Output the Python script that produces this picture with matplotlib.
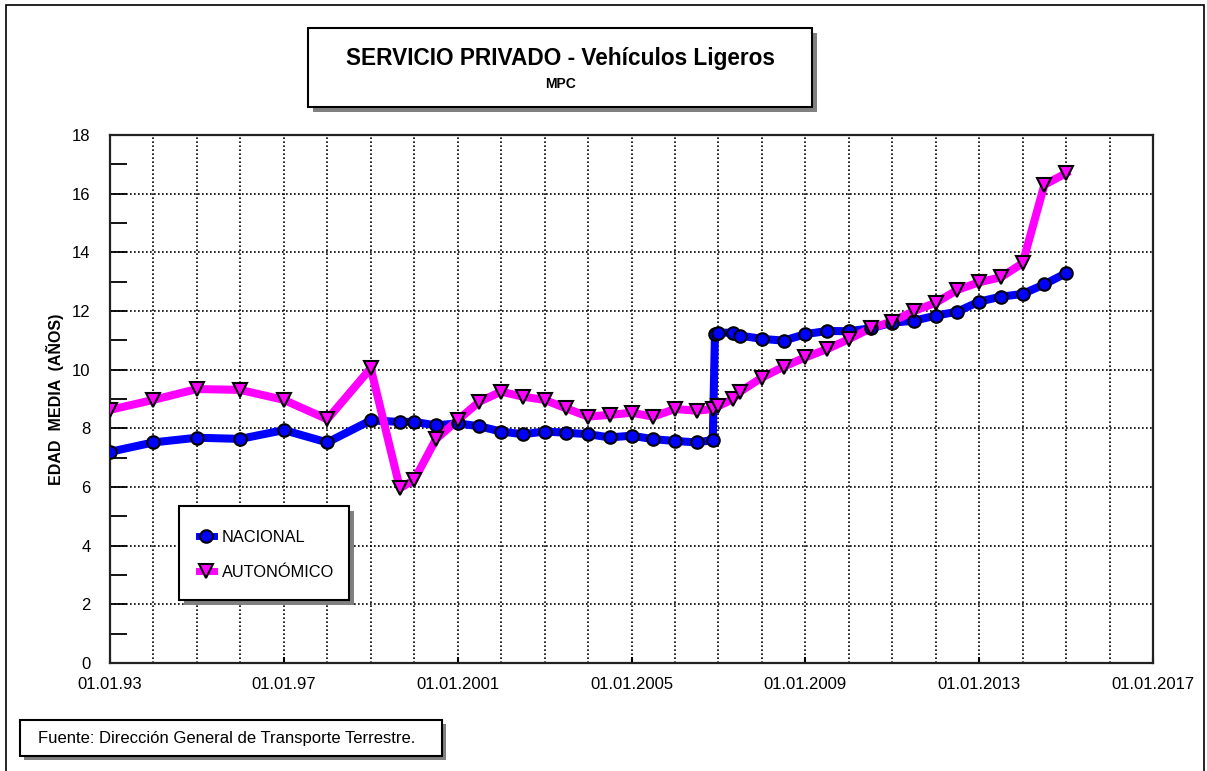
import numpy as np
import matplotlib
matplotlib.use('Agg')
import matplotlib.pyplot as plt
from matplotlib.patches import Rectangle
from matplotlib.lines import Line2D

plt.rcParams['font.family'] = ['Liberation Sans', 'DejaVu Sans']

# fechas en años decimales
nac_x = [1993.0, 1994.0, 1995.0, 1996.0, 1997.0, 1998.0, 1999.0, 1999.67, 2000.0, 2000.5,
         2001.0, 2001.5, 2002.0, 2002.5, 2003.0, 2003.5, 2004.0, 2004.5, 2005.0, 2005.5,
         2006.0, 2006.5, 2006.87, 2006.92, 2007.0, 2007.33, 2007.5, 2008.0, 2008.5, 2009.0,
         2009.5, 2010.0, 2010.5, 2011.0, 2011.5, 2012.0, 2012.5, 2013.0, 2013.5, 2014.0,
         2014.5, 2015.0]
nac_y = [7.20, 7.52, 7.68, 7.64, 7.94, 7.52, 8.27, 8.22, 8.22, 8.10,
         8.17, 8.07, 7.89, 7.80, 7.89, 7.85, 7.80, 7.69, 7.75, 7.63,
         7.57, 7.52, 7.60, 11.21, 11.26, 11.26, 11.16, 11.05, 10.99, 11.21,
         11.32, 11.31, 11.41, 11.60, 11.67, 11.84, 11.98, 12.32, 12.49, 12.58,
         12.91, 13.29]

aut_x = [1993.0, 1994.0, 1995.0, 1996.0, 1997.0, 1998.0, 1999.0, 1999.67, 2000.0, 2000.5,
         2001.0, 2001.5, 2002.0, 2002.5, 2003.0, 2003.5, 2004.0, 2004.5, 2005.0, 2005.5,
         2006.0, 2006.5, 2006.87, 2007.0, 2007.33, 2007.5, 2008.0, 2008.5, 2009.0,
         2009.5, 2010.0, 2010.5, 2011.0, 2011.5, 2012.0, 2012.5, 2013.0, 2013.5, 2014.0,
         2014.5, 2015.0]
aut_y = [8.63, 8.97, 9.34, 9.31, 8.97, 8.31, 10.05, 5.96, 6.24, 7.63,
         8.28, 8.91, 9.25, 9.08, 8.97, 8.68, 8.40, 8.46, 8.53, 8.40,
         8.66, 8.60, 8.66, 8.76, 8.99, 9.25, 9.73, 10.10, 10.42,
         10.70, 11.04, 11.41, 11.64, 12.00, 12.28, 12.72, 12.98, 13.15, 13.63,
         16.30, 16.70]

xtick_pos = [1993, 1997, 2001, 2005, 2009, 2013, 2017]
xtick_lab = ['01.01.93', '01.01.97', '01.01.2001', '01.01.2005', '01.01.2009',
             '01.01.2013', '01.01.2017']

W, H = 1207, 771
fig = plt.figure(figsize=(W / 100, H / 100), dpi=100)

def fx(px):
    return px / W

def fy(py):
    return 1 - py / H

ax = fig.add_axes([fx(110), fy(663), fx(1153) - fx(110), fy(135) - fy(663)])

ax.plot(nac_x, nac_y, color='#0000ff', lw=5.8, zorder=3, solid_joinstyle='round')
ax.plot(aut_x, aut_y, color='#ff00ff', lw=5.8, zorder=3, solid_joinstyle='round')
ax.plot(nac_x, nac_y, ls='none', marker='o', ms=9, mfc='#0000ff', mec='black', mew=1.5, zorder=4)
ax.plot(aut_x, aut_y, ls='none', marker='v', ms=10, mfc='#ff00ff', mec='black', mew=1.5, zorder=4)

ax.set_xlim(1993, 2017)
ax.set_ylim(0, 18)
ax.set_xticks(xtick_pos)
ax.set_xticklabels(xtick_lab)
ax.set_xticks(np.arange(1993, 2018, 1), minor=True)
ax.set_yticks(np.arange(0, 19, 2))
ax.set_yticks(np.arange(1, 18, 2), minor=True)

ax.tick_params(axis='x', which='major', direction='in', length=4, width=1.5, labelsize=12, pad=10)
ax.tick_params(axis='x', which='minor', length=0)
ax.tick_params(axis='y', which='both', direction='in', length=12, width=1.3, labelsize=12, pad=14)

ax.grid(True, which='major', axis='y', color='black', ls=(0, (1, 1.4)), lw=1.2)
ax.grid(True, which='both', axis='x', color='black', ls=(0, (1, 1.4)), lw=1.2)
for s in ax.spines.values():
    s.set_linewidth(1.6)
    s.set_color('#222222')

ax.set_ylabel('EDAD  MEDIA  (AÑOS)', fontsize=11.5, fontweight='bold', labelpad=6)

# caja exterior
fig.add_artist(Rectangle((fx(6), fy(773)), fx(1204) - fx(6), fy(5) - fy(773),
                         transform=fig.transFigure, fill=False, ec='black', lw=1.2, clip_on=False))

def shadow_box(x0, y0, x1, y1, off=5):
    fig.add_artist(Rectangle((fx(x0 + off), fy(y1 + off)), fx(x1) - fx(x0), fy(y0) - fy(y1),
                             transform=fig.transFigure, fc='#808080', ec='none', zorder=5))
    fig.add_artist(Rectangle((fx(x0), fy(y1)), fx(x1) - fx(x0), fy(y0) - fy(y1),
                             transform=fig.transFigure, fc='white', ec='black', lw=1.5, zorder=6))

# título
shadow_box(308, 28, 812, 107)
fig.text(fx(560), fy(59), 'SERVICIO PRIVADO - Vehículos Ligeros', ha='center', va='center',
         fontsize=16.3, fontweight='bold', zorder=7)
fig.text(fx(560), fy(84), 'MPC', ha='center', va='center', fontsize=10, fontweight='bold', zorder=7)

# leyenda
shadow_box(179, 506, 349, 600)
handles = [Line2D([], [], color='#0000ff', lw=5, marker='o', ms=9, mfc='#0000ff', mec='black', mew=1.5),
           Line2D([], [], color='#ff00ff', lw=5, marker='v', ms=10, mfc='#ff00ff', mec='black', mew=1.5)]
leg = fig.legend(handles, ['NACIONAL', 'AUTONÓMICO'], loc='upper left',
                 bbox_to_anchor=(fx(186), fy(517)), frameon=False, fontsize=11.8,
                 handlelength=0.9, handletextpad=0.5, labelspacing=1.2, borderpad=0.3)
leg.set_zorder(8)

# fuente
shadow_box(20, 720, 442, 756, off=4)
fig.text(fx(38), fy(738), 'Fuente: Dirección General de Transporte Terrestre.', ha='left', va='center',
         fontsize=12, zorder=7)

plt.savefig('out.png', dpi=100)
